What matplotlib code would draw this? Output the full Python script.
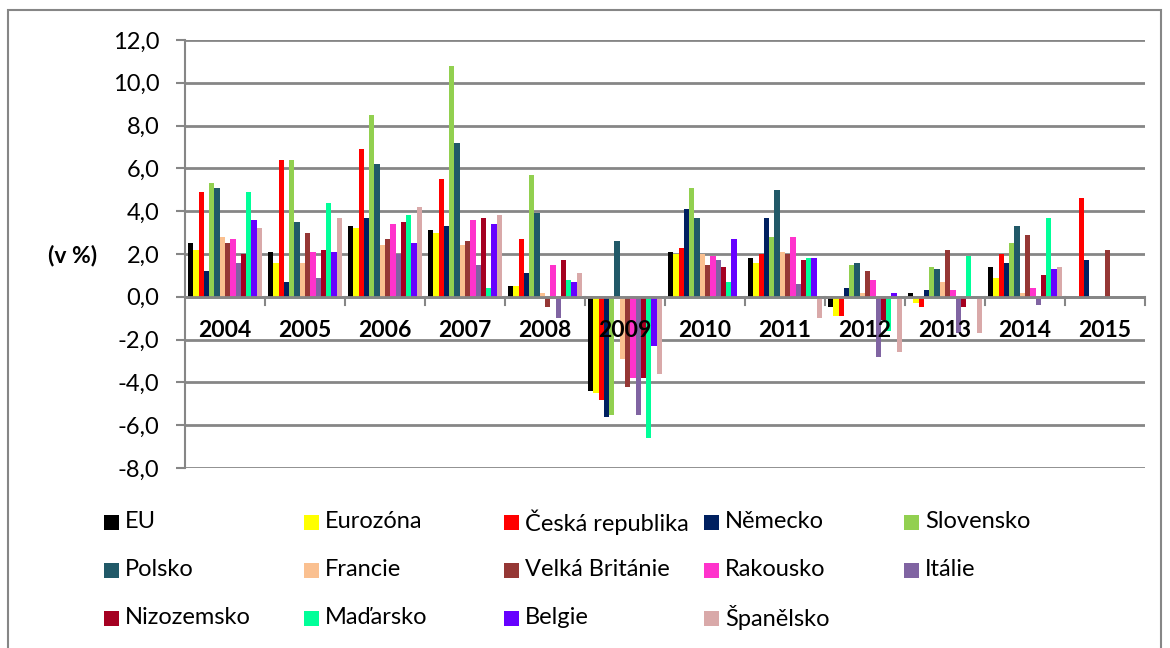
import numpy as np
import matplotlib
matplotlib.use("Agg")
import matplotlib.pyplot as plt
from matplotlib.patches import Rectangle

plt.rcParams['font.family'] = ['Lato', 'DejaVu Sans']

years = ["2004", "2005", "2006", "2007", "2008", "2009", "2010",
         "2011", "2012", "2013", "2014", "2015"]

series_names = ["EU", "Eurozóna", "Česká republika", "Německo", "Slovensko",
                "Polsko", "Francie", "Velká Británie", "Rakousko", "Itálie",
                "Nizozemsko", "Maďarsko", "Belgie", "Španělsko"]

nan = np.nan
eu         = [2.5, 2.1, 3.3, 3.1, 0.5, -4.4, 2.1, 1.8, -0.5, 0.2, 1.4, nan]
eurozona   = [2.2, 1.6, 3.2, 3.0, 0.5, -4.5, 2.0, 1.6, -0.9, -0.3, 0.9, nan]
cesko      = [4.9, 6.4, 6.9, 5.5, 2.7, -4.8, 2.3, 2.0, -0.9, -0.5, 2.0, 4.6]
nemecko    = [1.2, 0.7, 3.7, 3.3, 1.1, -5.6, 4.1, 3.7, 0.4, 0.3, 1.6, 1.7]
slovensko  = [5.3, 6.4, 8.5, 10.8, 5.7, -5.5, 5.1, 2.8, 1.5, 1.4, 2.5, nan]
polsko     = [5.1, 3.5, 6.2, 7.2, 3.9, 2.6, 3.7, 5.0, 1.6, 1.3, 3.3, nan]
francie    = [2.8, 1.6, 2.4, 2.4, 0.2, -2.9, 2.0, 2.1, 0.2, 0.7, 0.2, nan]
britanie   = [2.5, 3.0, 2.7, 2.6, -0.5, -4.2, 1.5, 2.0, 1.2, 2.2, 2.9, 2.2]
rakousko   = [2.7, 2.1, 3.4, 3.6, 1.5, -3.8, 1.9, 2.8, 0.8, 0.3, 0.4, nan]
italie     = [1.6, 0.9, 2.0, 1.5, -1.0, -5.5, 1.7, 0.6, -2.8, -1.7, -0.4, nan]
nizozemsko = [2.0, 2.2, 3.5, 3.7, 1.7, -3.8, 1.4, 1.7, -1.1, -0.5, 1.0, nan]
madarsko   = [4.9, 4.4, 3.8, 0.4, 0.8, -6.6, 0.7, 1.8, -1.6, 1.9, 3.7, nan]
belgie     = [3.6, 2.1, 2.5, 3.4, 0.7, -2.3, 2.7, 1.8, 0.2, 0.0, 1.3, nan]
spanelsko  = [3.2, 3.7, 4.2, 3.8, 1.1, -3.6, 0.0, -1.0, -2.6, -1.7, 1.4, nan]

values = [eu, eurozona, cesko, nemecko, slovensko, polsko, francie, britanie,
          rakousko, italie, nizozemsko, madarsko, belgie, spanelsko]

colors = ["#000000", "#FFFF00", "#FF0000", "#002060", "#92D050",
          "#215968", "#FAC090", "#953735", "#FF33CC", "#8064A2",
          "#A50021", "#00FF99", "#6600FF", "#D9A9A9"]

yticks = [-8, -6, -4, -2, 0, 2, 4, 6, 8, 10, 12]

W, H = 1170, 648
fig = plt.figure(figsize=(W / 100, H / 100), dpi=100)
ax = fig.add_axes([185 / W, 1 - 468 / H, 960 / W, 428 / H])

n = len(series_names)
gap = 0.075
bw = (1 - gap) / n
x0 = np.arange(len(years))
for i, (vals, c) in enumerate(zip(values, colors)):
    ax.bar(x0 + gap / 2 + i * bw, vals, width=bw, align='edge', color=c,
           edgecolor='none', zorder=3)

ax.set_xlim(0, len(years))
ax.set_ylim(-8, 12)
ax.set_yticks(yticks)
ax.set_yticklabels([f"{t:.1f}".replace(".", ",") for t in yticks], fontsize=17)
ax.yaxis.grid(True, color="#868686", linewidth=2, zorder=0)
ax.tick_params(axis='y', length=6.5, width=1.5, color="#868686", pad=12,
               direction='out')
ax.set_xticks([])
for s in ["top", "right", "bottom"]:
    ax.spines[s].set_visible(False)
ax.spines["left"].set_color("#868686")
ax.spines["left"].set_linewidth(1.5)

# category axis at zero
ax.axhline(0, color="#868686", linewidth=2, zorder=4)
for k in range(1, len(years) + 1):
    ax.plot([k, k], [0, -0.38], color="#868686", linewidth=1.5, zorder=4,
            clip_on=False)
for k, yr in enumerate(years):
    ax.text(k + 0.5, -1.57, yr, ha='center', va='center', fontsize=16.5,
            fontweight='bold', zorder=6)

fig.text(73 / W, 1 - 256 / H, "(v %)", ha='center', va='center',
         fontsize=16.5, fontweight='bold')

# legend (manual layout, row-major order)
col_x = [104, 304, 504, 704, 904]
row_y = [522, 570, 618]
for idx, (name, c) in enumerate(zip(series_names, colors)):
    r, cc = divmod(idx, 5)
    x = col_x[cc]
    y = row_y[r]
    fig.patches.append(Rectangle((x / W, 1 - (y + 7.5) / H), 15 / W, 15 / H,
                                 transform=fig.transFigure, facecolor=c,
                                 edgecolor='none'))
    fig.text((x + 21) / W, 1 - y / H, name, ha='left', va='center',
             fontsize=17)

# outer border
fig.patches.append(Rectangle((8 / W, -0.05), (1161 - 8) / W, 1.05 - 10 / H,
                             transform=fig.transFigure, facecolor='none',
                             edgecolor="#868686", linewidth=1.5))

fig.savefig("out.png", dpi=100)
